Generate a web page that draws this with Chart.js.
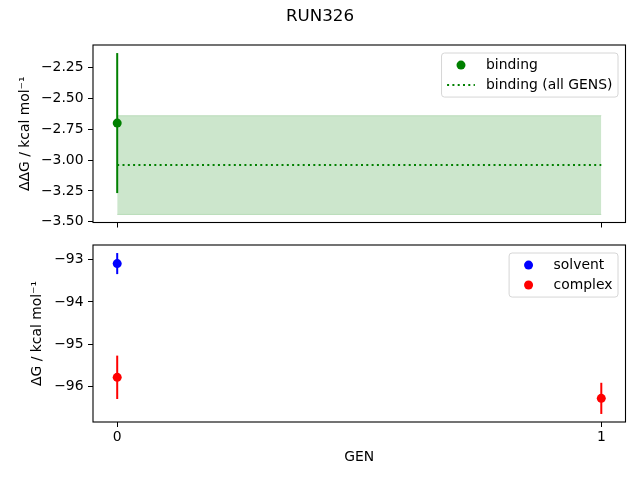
<!DOCTYPE html>
<html>
<head>
<meta charset="utf-8">
<script src="https://cdn.jsdelivr.net/npm/chart.js@4/dist/chart.umd.min.js"></script>
<style>
body { margin: 0; background: #fff; }
#wrap { position: relative; width: 640px; height: 480px; }
canvas { position: absolute; left: 0; }
</style>
</head>
<body>
<div id="wrap">
  <canvas id="chart-top" width="640" height="234" style="top:0"></canvas>
  <canvas id="chart-bottom" width="640" height="246" style="top:234px"></canvas>
</div>
<script>
// data
const genTicks = [0, 1];
const bindingGen = [0];
const binding = [-2.70];
const bindingErr = [0.567];
const bindingAllGen = [0, 1];
const bindingAll = -3.04;
const bindingAllErr = 0.40;
const solventGen = [0];
const solvent = [-93.09];
const solventErr = [0.25];
const complexGen = [0, 1];
const complex = [-95.79, -96.29];
const complexErr = [0.515, 0.37];
const topTicks = [-3.50, -3.25, -3.00, -2.75, -2.50, -2.25];
const bottomTicks = [-96, -95, -94, -93];

const FS = 13.9;
Chart.defaults.font.family = "'DejaVu Sans', sans-serif";
Chart.defaults.font.size = FS;
Chart.defaults.color = '#000';

const pts = (xs, ys) => xs.map((x, i) => ({ x: x, y: ys[i] }));
const fmt = dec => v => (v < 0 ? '\u2212' : '') + Math.abs(v).toFixed(dec);

// matplotlib style 5% margins
function limits(lo, hi) {
    const m = (hi - lo) * 0.05;
    return [lo - m, hi + m];
}

// error bars, drawn just before the markers
const errorBars = {
    id: 'errorBars',
    beforeDatasetDraw(chart, args) {
        const ds = chart.data.datasets[args.index];
        if (!ds.errors) return;
        const ctx = chart.ctx, sx = chart.scales.x, sy = chart.scales.y;
        ctx.save();
        ctx.strokeStyle = ds.backgroundColor;
        ctx.lineWidth = 2;
        ds.data.forEach((p, i) => {
            const x = sx.getPixelForValue(p.x);
            ctx.beginPath();
            ctx.moveTo(x, sy.getPixelForValue(p.y - ds.errors[i]));
            ctx.lineTo(x, sy.getPixelForValue(p.y + ds.errors[i]));
            ctx.stroke();
        });
        ctx.restore();
    }
};

// axes frame + legend box like matplotlib
const frameLegend = {
    id: 'frameLegend',
    afterDraw(chart, args, opts) {
        const ctx = chart.ctx, a = chart.chartArea;
        ctx.save();
        ctx.strokeStyle = '#000';
        ctx.lineWidth = 1.1;
        ctx.strokeRect(a.left, a.top, a.right - a.left, a.bottom - a.top);

        const items = opts.items || [];
        ctx.font = FS + "px 'DejaVu Sans'";
        const pad = 0.4 * FS, handle = 2 * FS, tpad = 0.8 * FS, rowH = 13, gap = 0.5 * FS;
        const tw = Math.max(...items.map(it => ctx.measureText(it.text).width));
        const w = pad * 2 + handle + tpad + tw;
        const h = pad * 2 + rowH * items.length + gap * (items.length - 1);
        const right = a.right - 7.5, top = a.top + 8;
        const left = right - w;
        ctx.beginPath();
        ctx.roundRect(left, top, w, h, 3);
        ctx.fillStyle = 'rgba(255,255,255,0.8)';
        ctx.fill();
        ctx.strokeStyle = '#d6d6d6';
        ctx.lineWidth = 1;
        ctx.stroke();
        items.forEach((it, i) => {
            const y = top + pad + rowH / 2 + i * (rowH + gap);
            if (it.type === 'line') {
                ctx.save();
                ctx.strokeStyle = it.color;
                ctx.lineWidth = 2;
                ctx.setLineDash([2, 3.3]);
                ctx.beginPath();
                ctx.moveTo(left + pad, y);
                ctx.lineTo(left + pad + handle, y);
                ctx.stroke();
                ctx.restore();
            } else {
                ctx.fillStyle = it.color;
                ctx.beginPath();
                ctx.arc(left + pad + handle / 2, y, 4.5, 0, Math.PI * 2);
                ctx.fill();
            }
            ctx.fillStyle = '#000';
            ctx.textBaseline = 'middle';
            ctx.textAlign = 'left';
            ctx.fillText(it.text, left + pad + handle + tpad, y + 0.5);
        });

        if (opts.title) {
            ctx.font = "16.7px 'DejaVu Sans'";
            ctx.textAlign = 'center';
            ctx.textBaseline = 'middle';
            ctx.fillStyle = '#000';
            ctx.fillText(opts.title, 320, 16.5);
        }
        ctx.restore();
    }
};

const gridOpts = { drawOnChartArea: false, drawTicks: true, tickLength: 5, color: '#000', lineWidth: 1 };

// drop the label overhang so the plot box sits where the padding puts it
function noOverhang(s) {
    s.paddingTop = 0;
    s.paddingBottom = 0;
    s.paddingLeft = 0;
    s.paddingRight = 0;
}

function xAxis(showLabels, height) {
    return {
        type: 'linear',
        min: -0.05,
        max: 1.05,
        grid: gridOpts,
        border: { display: false },
        afterBuildTicks: s => { s.ticks = genTicks.map(v => ({ value: v })); },
        afterFit: s => { s.height = height; noOverhang(s); },
        ticks: { padding: 2, maxRotation: 0, autoSkip: false, callback: v => showLabels ? String(v) : '' },
        title: showLabels ? { display: true, text: 'GEN', padding: { top: 0, bottom: 14.4 } } : { display: false }
    };
}

function yAxis(range, ticks, dec, title, tpad) {
    return {
        type: 'linear',
        min: range[0],
        max: range[1],
        grid: gridOpts,
        border: { display: false },
        afterBuildTicks: s => { s.ticks = ticks.map(v => ({ value: v })); },
        afterFit: s => { s.width = 93; noOverhang(s); },
        ticks: { padding: 4.5, callback: fmt(dec) },
        title: { display: true, text: title, padding: { top: tpad, bottom: 0 } }
    };
}

const topRange = limits(
    Math.min(binding[0] - bindingErr[0], bindingAll - bindingAllErr),
    Math.max(binding[0] + bindingErr[0], bindingAll + bindingAllErr)
);
const lowAll = [...solvent.map((v, i) => v - solventErr[i]), ...complex.map((v, i) => v - complexErr[i])];
const highAll = [...solvent.map((v, i) => v + solventErr[i]), ...complex.map((v, i) => v + complexErr[i])];
const bottomRange = limits(Math.min(...lowAll), Math.max(...highAll));

new Chart(document.getElementById('chart-top').getContext('2d'), {
    type: 'line',
    data: {
        datasets: [
            {
                label: 'binding',
                data: pts(bindingGen, binding),
                errors: bindingErr,
                showLine: false,
                pointRadius: 4.5,
                pointBorderWidth: 0,
                backgroundColor: '#008000',
                borderColor: '#008000'
            },
            {
                label: 'binding (all GENS)',
                data: pts(bindingAllGen, bindingAllGen.map(() => bindingAll)),
                borderColor: '#008000',
                borderWidth: 2,
                borderDash: [2, 3.3],
                pointRadius: 0,
                fill: false
            },
            {
                label: 'band low',
                data: pts(bindingAllGen, bindingAllGen.map(() => bindingAll - bindingAllErr)),
                borderColor: 'rgba(0,128,0,0.2)',
                borderWidth: 1,
                pointRadius: 0,
                fill: false
            },
            {
                label: 'band high',
                data: pts(bindingAllGen, bindingAllGen.map(() => bindingAll + bindingAllErr)),
                borderColor: 'rgba(0,128,0,0.2)',
                backgroundColor: 'rgba(0,128,0,0.2)',
                borderWidth: 1,
                pointRadius: 0,
                fill: '-1'
            }
        ]
    },
    options: {
        responsive: false,
        animation: false,
        devicePixelRatio: 1,
        layout: { padding: { top: 45, right: 14.5, bottom: 0, left: 0 } },
        scales: {
            x: xAxis(false, 11.5),
            y: yAxis(topRange, topTicks, 2, '\u0394\u0394G / kcal mol\u207B\u00B9', 17)
        },
        plugins: {
            legend: { display: false },
            tooltip: { enabled: false },
            frameLegend: {
                title: 'RUN326',
                items: [
                    { type: 'marker', color: '#008000', text: 'binding' },
                    { type: 'line', color: '#008000', text: 'binding (all GENS)' }
                ]
            }
        }
    },
    plugins: [errorBars, frameLegend]
});

new Chart(document.getElementById('chart-bottom').getContext('2d'), {
    type: 'scatter',
    data: {
        datasets: [
            {
                label: 'solvent',
                data: pts(solventGen, solvent),
                errors: solventErr,
                pointRadius: 4.5,
                pointBorderWidth: 0,
                backgroundColor: '#0000ff',
                borderColor: '#0000ff'
            },
            {
                label: 'complex',
                data: pts(complexGen, complex),
                errors: complexErr,
                pointRadius: 4.5,
                pointBorderWidth: 0,
                backgroundColor: '#ff0000',
                borderColor: '#ff0000'
            }
        ]
    },
    options: {
        responsive: false,
        animation: false,
        devicePixelRatio: 1,
        layout: { padding: { top: 11, right: 14.5, bottom: 0, left: 0 } },
        scales: {
            x: xAxis(true, 58),
            y: yAxis(bottomRange, bottomTicks, 0, '\u0394G / kcal mol\u207B\u00B9', 29)
        },
        plugins: {
            legend: { display: false },
            tooltip: { enabled: false },
            frameLegend: {
                items: [
                    { type: 'marker', color: '#0000ff', text: 'solvent' },
                    { type: 'marker', color: '#ff0000', text: 'complex' }
                ]
            }
        }
    },
    plugins: [errorBars, frameLegend]
});
</script>
</body>
</html>
